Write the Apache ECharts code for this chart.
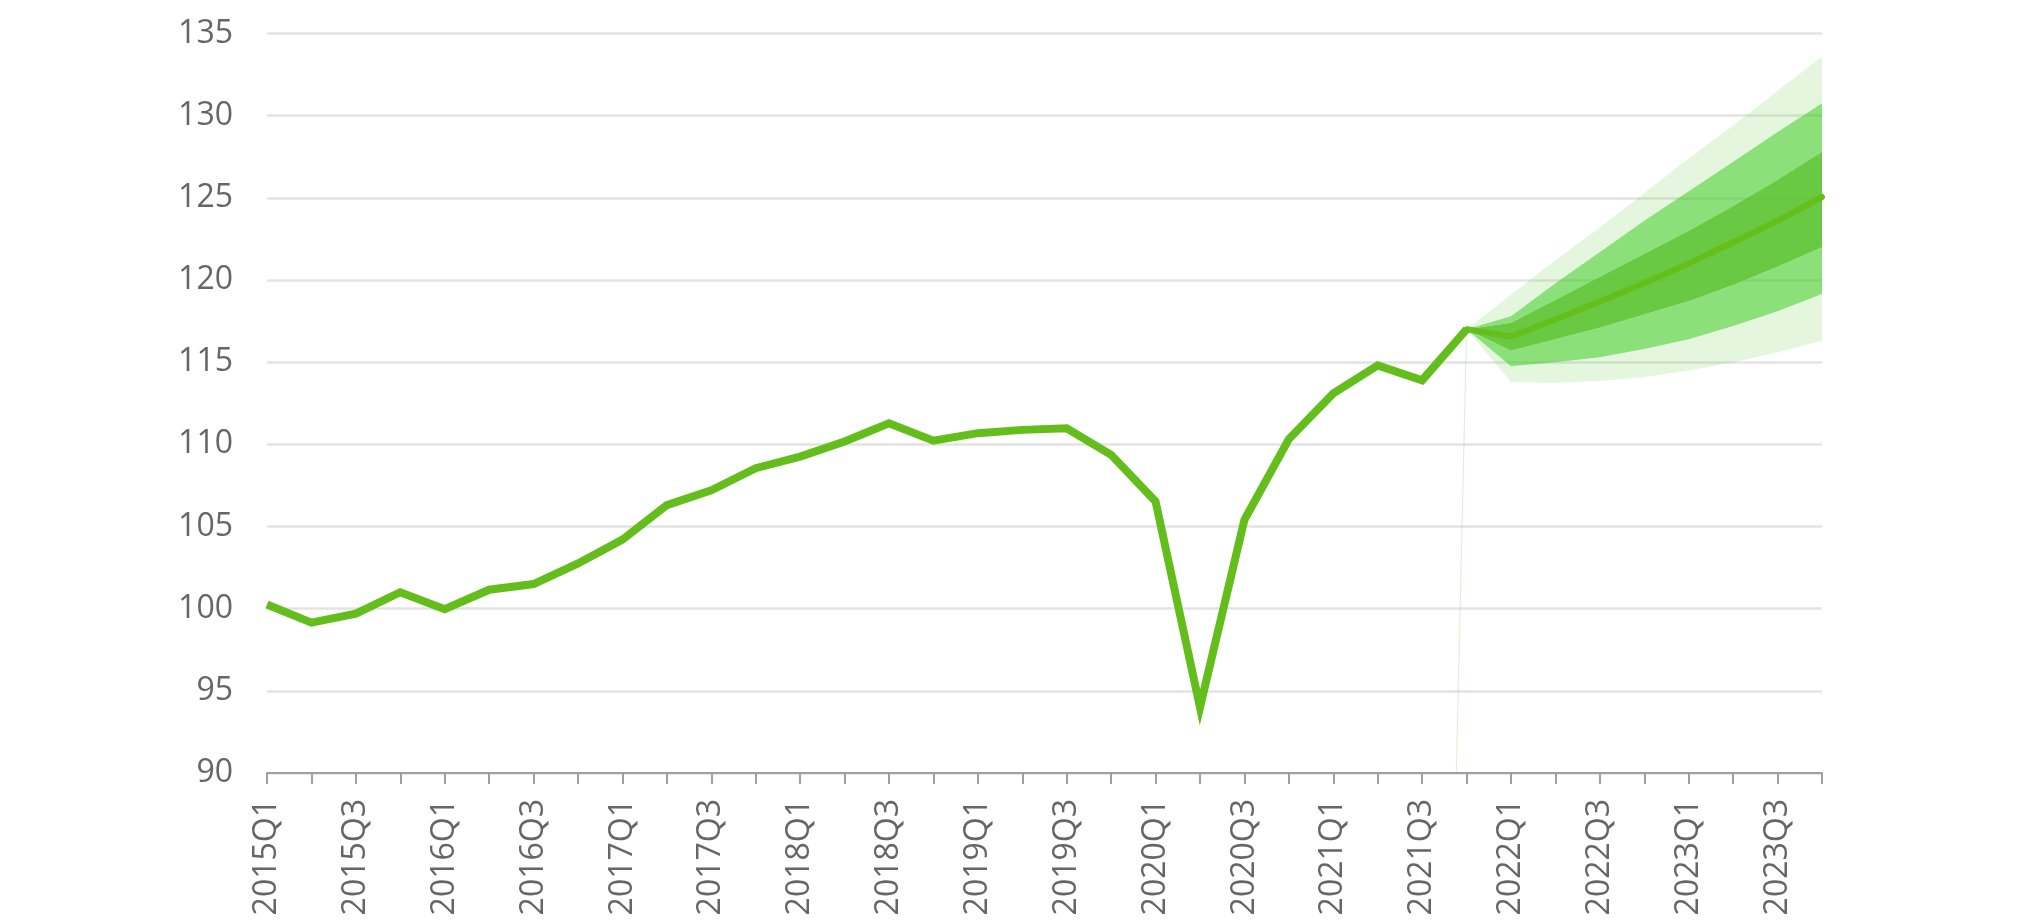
<!DOCTYPE html>
<html>
<head>
<meta charset="utf-8">
<script src="https://cdn.jsdelivr.net/npm/echarts@6/dist/echarts.min.js"></script>
<style>
  html, body { margin: 0; padding: 0; background: #ffffff; }
  #chart { width: 2020px; height: 923px; }
</style>
</head>
<body>
<div id="chart"></div>
<script>
const categories = [
  '2015Q1','2015Q2','2015Q3','2015Q4','2016Q1','2016Q2','2016Q3','2016Q4',
  '2017Q1','2017Q2','2017Q3','2017Q4','2018Q1','2018Q2','2018Q3','2018Q4',
  '2019Q1','2019Q2','2019Q3','2019Q4','2020Q1','2020Q2','2020Q3','2020Q4',
  '2021Q1','2021Q2','2021Q3','2021Q4','2022Q1','2022Q2','2022Q3','2022Q4',
  '2023Q1','2023Q2','2023Q3','2023Q4'
];
// observed values, 2015Q1 .. 2021Q4
const actual = [100.25, 99.15, 99.7, 101.0, 99.97, 101.15, 101.5, 102.75,
  104.2, 106.3, 107.2, 108.55, 109.25, 110.17, 111.28, 110.22,
  110.68, 110.88, 110.98, 109.36, 106.52, 94.0, 105.41, 110.32,
  113.1, 114.8, 113.9, 117.0];
// forecast, 2021Q4 .. 2023Q4
const forecastStart = 27;
const central     = [117.0, 116.56, 117.6, 118.7, 119.8, 121.0, 122.3, 123.6, 125.05];
const lightLower  = [117.0, 113.8, 113.75, 113.85, 114.1, 114.5, 115.0, 115.6, 116.3];
const mediumLower = [117.0, 114.75, 115.0, 115.3, 115.8, 116.4, 117.2, 118.1, 119.15];
const darkLower   = [117.0, 115.7, 116.4, 117.1, 117.9, 118.7, 119.7, 120.8, 122.0];
const darkUpper   = [117.0, 117.4, 118.8, 120.2, 121.6, 123.0, 124.5, 126.1, 127.8];
const mediumUpper = [117.0, 117.8, 119.8, 121.7, 123.6, 125.4, 127.2, 129.0, 130.75];
const lightUpper  = [117.0, 119.1, 121.2, 123.2, 125.3, 127.4, 129.4, 131.5, 133.6];
// faint band-base connector (2021Q3 .. 2021Q4)
const connectorStart = 26;
const connector = [0, 117.0];
const yTicks = { min: 90, max: 135, interval: 5 };

function pad(arr, start) {
  const out = new Array(categories.length).fill(null);
  arr.forEach((v, i) => { out[start + i] = v; });
  return out;
}
function diff(upper, lower) { return upper.map((v, i) => +(v - lower[i]).toFixed(3)); }

const LIGHT = 'rgba(127, 212, 95, 0.2)';
const MEDIUM = 'rgba(70, 205, 40, 0.62)';
const DARK = 'rgba(90, 195, 45, 0.9)';
const LINE = '#63bd1b';

function band(name, data, color) {
  return {
    name, type: 'line', stack: 'fan', data: pad(data, forecastStart),
    symbol: 'none', showSymbol: false, smooth: false,
    lineStyle: { width: 0, opacity: 0 },
    areaStyle: color ? { color: color, opacity: 1 } : { opacity: 0 },
    silent: true, z: 1
  };
}

const chart = echarts.init(document.getElementById('chart'), null, { renderer: 'canvas' });
chart.setOption({
  animation: false,
  backgroundColor: '#ffffff',
  grid: { left: 267, right: 198, top: 33.5, bottom: 150 },
  xAxis: {
    type: 'category',
    data: categories,
    boundaryGap: false,
    axisLine: { show: true, lineStyle: { color: '#a0a0a0', width: 2 } },
    axisTick: { show: true, interval: 0, length: 11, lineStyle: { color: '#a0a0a0', width: 2 } },
    axisLabel: {
      interval: 1, rotate: 90, margin: 26,
      fontSize: 32, color: '#666666', fontFamily: 'Open Sans'
    },
    splitLine: { show: false }
  },
  yAxis: {
    type: 'value',
    min: yTicks.min, max: yTicks.max, interval: yTicks.interval,
    axisLine: { show: false },
    axisTick: { show: false },
    axisLabel: { margin: 34, fontSize: 32, color: '#666666', fontFamily: 'Open Sans' },
    splitLine: { show: true, lineStyle: { color: '#e3e3e3', width: 2.5 } }
  },
  series: [
    band('base', lightLower, null),
    band('lightLow', diff(mediumLower, lightLower), LIGHT),
    band('medLow', diff(darkLower, mediumLower), MEDIUM),
    band('dark', diff(darkUpper, darkLower), DARK),
    band('medHigh', diff(mediumUpper, darkUpper), MEDIUM),
    band('lightHigh', diff(lightUpper, mediumUpper), LIGHT),
    {
      name: 'connector', type: 'line', data: pad(connector, connectorStart),
      symbol: 'none', showSymbol: false, silent: true, clip: true,
      lineStyle: { color: 'rgba(140, 215, 110, 0.3)', width: 1.2 }, z: 2
    },
    {
      name: 'forecast', type: 'line', data: pad(central, forecastStart),
      symbol: 'none', showSymbol: false, silent: true,
      lineStyle: { color: '#64bf1a', width: 6, join: 'round', cap: 'round' }, z: 3
    },
    {
      name: 'actual', type: 'line', data: pad(actual, 0),
      symbol: 'none', showSymbol: false, silent: true,
      lineStyle: { color: LINE, width: 8, join: 'miter', miterLimit: 5 }, z: 4
    }
  ]
});
</script>
</body>
</html>
